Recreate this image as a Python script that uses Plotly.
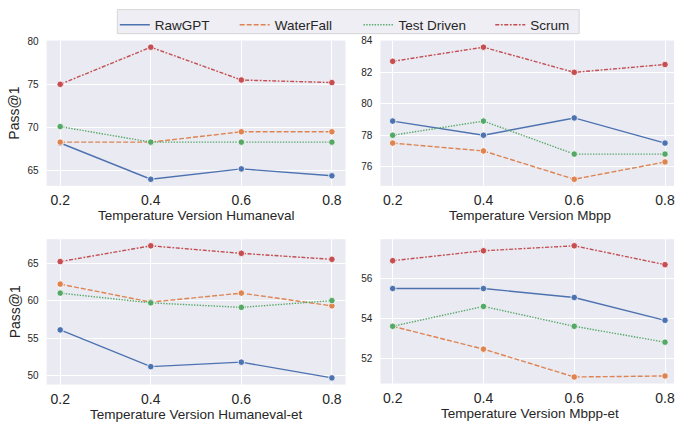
import plotly.graph_objects as go

temps = [0.2, 0.4, 0.6, 0.8]
methods = ["RawGPT", "WaterFall", "Test Driven", "Scrum"]

humaneval = {
    "RawGPT": [68.2, 64.0, 65.2, 64.4],
    "WaterFall": [68.3, 68.3, 69.5, 69.5],
    "Test Driven": [70.1, 68.3, 68.3, 68.3],
    "Scrum": [75.0, 79.3, 75.5, 75.2],
}
mbpp = {
    "RawGPT": [78.9, 78.0, 79.1, 77.5],
    "WaterFall": [77.5, 77.0, 75.2, 76.3],
    "Test Driven": [78.0, 78.9, 76.8, 76.8],
    "Scrum": [82.7, 83.6, 82.0, 82.5],
}
humaneval_et = {
    "RawGPT": [56.1, 51.2, 51.8, 49.7],
    "WaterFall": [62.2, 59.8, 61.0, 59.3],
    "Test Driven": [61.0, 59.7, 59.1, 60.0],
    "Scrum": [65.2, 67.3, 66.3, 65.5],
}
mbpp_et = {
    "RawGPT": [55.5, 55.5, 55.05, 53.9],
    "WaterFall": [53.6, 52.45, 51.05, 51.1],
    "Test Driven": [53.6, 54.6, 53.6, 52.8],
    "Scrum": [56.9, 57.4, 57.65, 56.7],
}
panel_titles = ["Temperature Version Humaneval", "Temperature Version Mbpp",
                "Temperature Version Humaneval-et", "Temperature Version Mbpp-et"]
y_ticks = [[65, 70, 75, 80], [76, 78, 80, 82, 84], [50, 55, 60, 65], [52, 54, 56]]
x_tick_labels = ["0.2", "0.4", "0.6", "0.8"]

colors = {"RawGPT": "#4C72B0", "WaterFall": "#DD8452",
          "Test Driven": "#55A868", "Scrum": "#C44E52"}
dashes = {"RawGPT": "solid", "WaterFall": "5px,2px",
          "Test Driven": "1.4px,1.4px", "Scrum": "4px,1.6px,1.8px,1.6px"}

W, H = 675, 428
FONT = "Liberation Sans, Arial, sans-serif"
TXT = "#262626"

# pixel boxes (left, right, top, bottom)
boxes = [(46.7, 346, 36, 183), (381, 675, 36, 183),
         (46.7, 346, 237, 384), (381, 675, 237, 383)]
x_ranges = [[0.17, 0.83], [0.173, 0.8198], [0.17, 0.83], [0.173, 0.8198]]
legend_x = [115, 235, 359, 491]

fig = go.Figure()
datasets = [humaneval, mbpp, humaneval_et, mbpp_et]

def yrange(d):
    vals = [v for m in methods for v in d[m]]
    lo, hi = min(vals), max(vals)
    pad = (hi - lo) * 0.05
    return [lo - pad, hi + pad]

for i, d in enumerate(datasets):
    ax = "" if i == 0 else str(i + 1)
    for m in methods:
        fig.add_trace(go.Scatter(
            x=temps, y=d[m], mode="lines+markers", name=m,
            xaxis="x" + ax, yaxis="y" + ax, showlegend=False,
            line=dict(color=colors[m], width=1.4, dash=dashes[m]),
            marker=dict(color=colors[m], size=6.5, line=dict(color="white", width=0.8)),
        ))
    l, r, t, b = boxes[i]
    common = dict(showgrid=True, gridcolor="white", gridwidth=1, zeroline=False,
                  showline=False, ticks="", color=TXT, ticklabeloverflow="allow")
    fig.update_layout(**{
        "xaxis" + ax: dict(domain=[l / W, r / W], range=x_ranges[i],
                           anchor="y" + ax, tickvals=temps, ticktext=x_tick_labels,
                           tickfont=dict(size=14, family=FONT, color=TXT),
                           ticklabelstandoff=4, **common),
        "yaxis" + ax: dict(domain=[1 - b / H, 1 - t / H], range=yrange(d),
                           anchor="x" + ax, tickvals=y_ticks[i],
                           tickfont=dict(size=10, family=FONT, color=TXT),
                           ticklabelstandoff=7, **common),
    })
    fig.add_annotation(text=panel_titles[i], xref="paper", yref="paper",
                       x=(l + r) / 2 / W if i % 2 == 0 else (381 + 679.6) / 2 / W,
                       y=1 - (b + 30) / H, xanchor="center", yanchor="middle",
                       showarrow=False, font=dict(size=13.5, family=FONT, color=TXT))
    if i % 2 == 0:
        fig.add_annotation(text="Pass@1", xref="paper", yref="paper",
                           x=14.5 / W, y=1 - (t + b) / 2 / H, textangle=-90,
                           xanchor="center", yanchor="middle", showarrow=False,
                           font=dict(size=14, family=FONT, color=TXT))

# legend-only traces, one legend each so entries sit where the reference has them
legend_layout = {}
for k, m in enumerate(methods):
    lg = "legend" if k == 0 else "legend%d" % (k + 1)
    fig.add_trace(go.Scatter(
        x=[None], y=[None], mode="lines", name=m,
        line=dict(color=colors[m], width=1.4, dash=dashes[m]),
        showlegend=True, xaxis="x", yaxis="y", legend=lg,
    ))
    legend_layout[lg] = dict(orientation="h", x=legend_x[k] / W, y=1 - 4.5 / H,
                             xanchor="left", yanchor="top",
                             bgcolor="rgba(0,0,0,0)", borderwidth=0,
                             font=dict(size=13.5, family=FONT, color=TXT), itemwidth=30)

# legend frame
fig.add_shape(type="rect", xref="paper", yref="paper",
              x0=117.5 / W, x1=580 / W, y0=1 - 29 / H, y1=1 - 4.7 / H,
              fillcolor="#EEEEF4", line=dict(color="#D6D6D6", width=1), layer="below")

fig.update_layout(
    width=W, height=H, margin=dict(l=0, r=0, t=0, b=0),
    paper_bgcolor="white", plot_bgcolor="#EAEAF2",
    font=dict(family=FONT, color=TXT),
    **legend_layout,
)

fig.write_html("out.html", config={"displayModeBar": False},
               post_script="document.body.style.margin='0';")
